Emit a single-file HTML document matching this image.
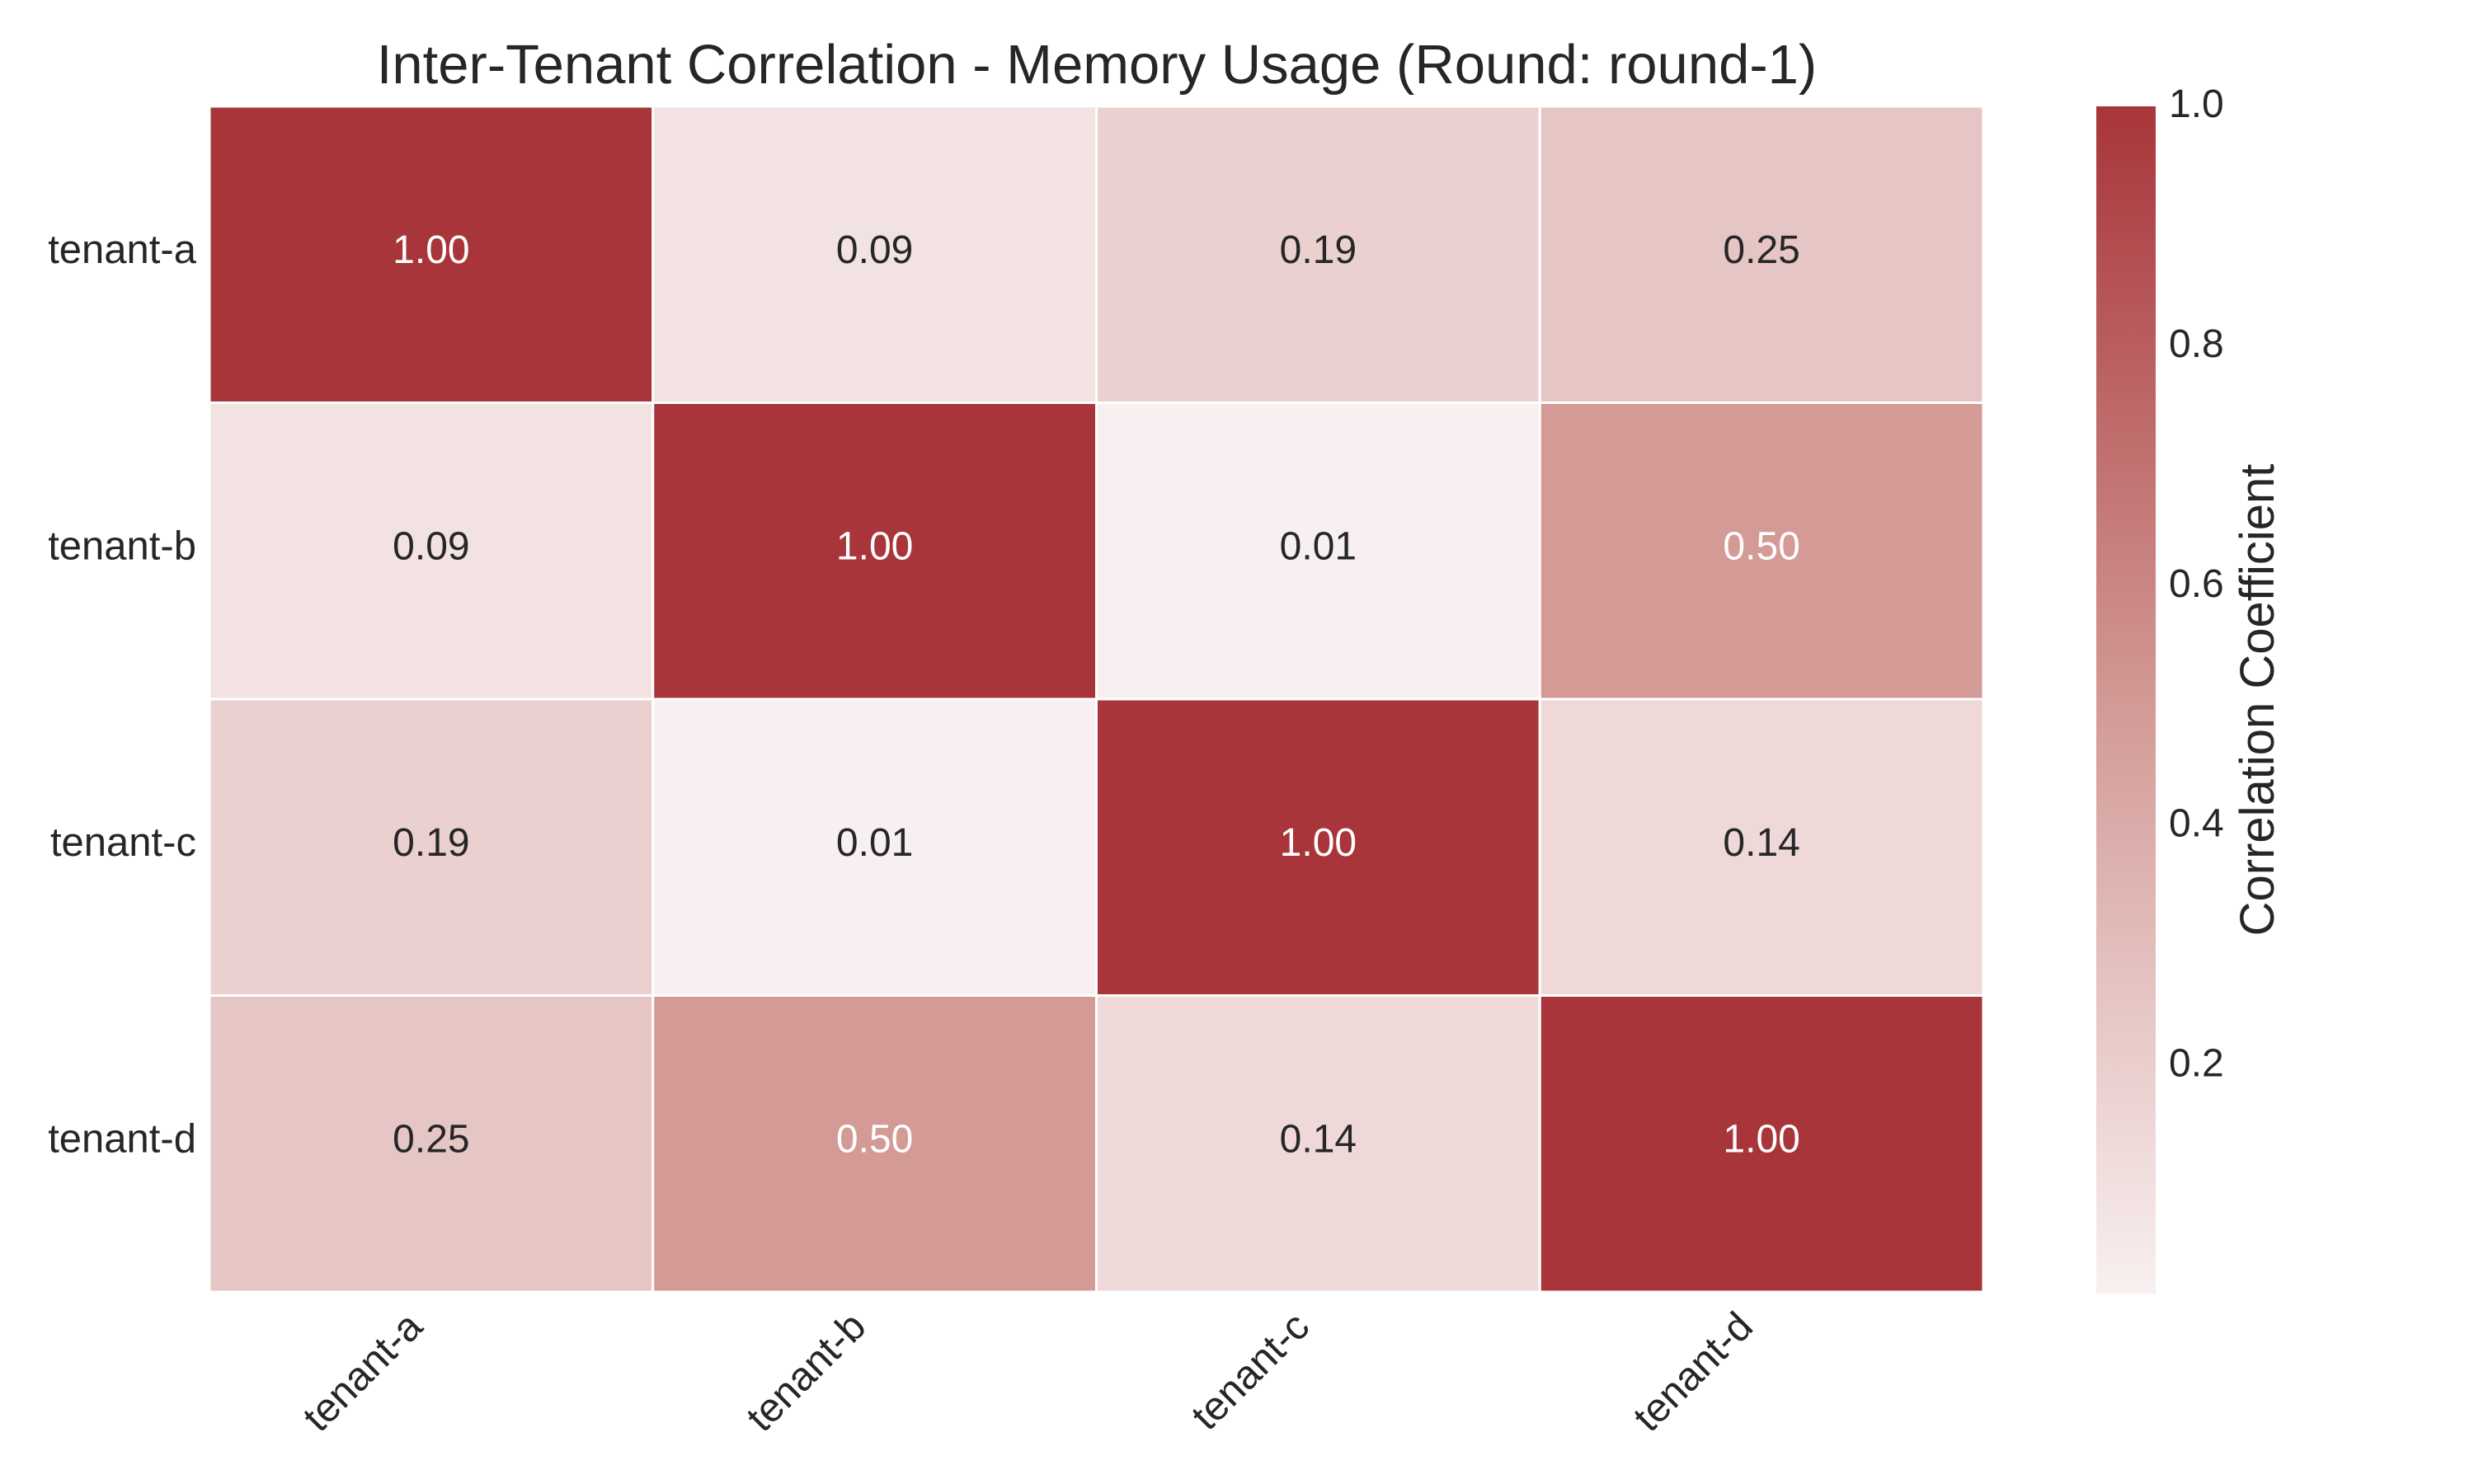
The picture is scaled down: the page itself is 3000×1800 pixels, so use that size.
<!DOCTYPE html>
<html><head><meta charset="utf-8"><style>
html,body{margin:0;padding:0;background:#fff;}
svg{display:block;font-family:"Liberation Sans",Arial,sans-serif;}
</style></head><body>
<svg id="chart" width="3000" height="1800" viewBox="0 0 3000 1800">
<text x="1330" y="101" text-anchor="middle" font-size="67" fill="#262626">Inter-Tenant Correlation - Memory Usage (Round: round-1)</text>
<g id="cells"></g>
<g id="ylabels"></g>
<g id="xlabels"></g>
<defs><linearGradient id="cbgrad" x1="0" y1="1" x2="0" y2="0">
<stop offset="0" stop-color="#f8f0f0"/><stop offset="0.495" stop-color="#d39a96"/><stop offset="1" stop-color="#a8353a"/>
</linearGradient></defs>
<rect x="2542" y="129" width="72" height="1440" fill="url(#cbgrad)"/>
<g id="cbticks"></g>
<text transform="translate(2757,849) rotate(-90)" text-anchor="middle" font-size="58" fill="#262626">Correlation Coefficient</text>
</svg>
<script>
const tenants = ["tenant-a","tenant-b","tenant-c","tenant-d"];
const row0 = [1.00,0.09,0.19,0.25];
const row1 = [0.09,1.00,0.01,0.50];
const row2 = [0.19,0.01,1.00,0.14];
const row3 = [0.25,0.50,0.14,1.00];
const cbTicks = [0.2,0.4,0.6,0.8,1.0];
const vmin = 0.01, vmax = 1.0;
const matrix = [row0,row1,row2,row3];
const NS = "http://www.w3.org/2000/svg";
const X0=254,X1=2405,Y0=129,Y1=1567,CB0=129,CB1=1569;
const cw=(X1-X0)/tenants.length, ch=(Y1-Y0)/tenants.length;
function xPos(i){return X0+i*cw;}
function yPos(i){return Y0+i*ch;}
function cbY(v){return CB1-(v-vmin)/(vmax-vmin)*(CB1-CB0);}
function hex(c){return [parseInt(c.slice(1,3),16),parseInt(c.slice(3,5),16),parseInt(c.slice(5,7),16)];}
const lo=hex("#f8f0f0"),mid=hex("#d39a96"),hi=hex("#a8353a");
function color(v){
  let t=(v-vmin)/(vmax-vmin); t=Math.max(0,Math.min(1,t));
  let a,b,f; if(t<0.495){a=lo;b=mid;f=t/0.495;}else{a=mid;b=hi;f=(t-0.495)/0.505;}
  return "rgb("+a.map((x,k)=>Math.round(x+(b[k]-x)*f)).join(",")+")";
}
function mk(tag,attrs,parent,txt){const e=document.createElementNS(NS,tag);for(const k in attrs)e.setAttribute(k,attrs[k]);if(txt!==undefined)e.textContent=txt;parent.appendChild(e);return e;}
const cells=document.getElementById("cells");
matrix.forEach((row,r)=>row.forEach((v,c)=>{
  const rect=mk("rect",{x:xPos(c),y:yPos(r),width:cw,height:ch,fill:color(v),stroke:"#fff","stroke-width":3},cells);
  
  
  const t=mk("text",{x:xPos(c)+cw/2,y:yPos(r)+ch/2+10,"text-anchor":"middle","font-size":48,fill:v>0.4?"#ffffff":"#262626"},cells,v.toFixed(2));
  
  
}));
const yl=document.getElementById("ylabels");
tenants.forEach((n,i)=>{
  const t=mk("text",{x:238,y:yPos(i)+ch/2+10,"text-anchor":"end","font-size":49,fill:"#262626"},yl,n);
  
  
});
const xl=document.getElementById("xlabels");
tenants.forEach((n,i)=>{
  const cx=xPos(i)+cw/2;
  const t=mk("text",{transform:"translate("+(cx-8)+",1612) rotate(-45)","text-anchor":"end","font-size":49,fill:"#262626"},xl,n);
  
  
});
const cb=document.getElementById("cbticks");
cbTicks.forEach(v=>{
  const y=cbY(v);
  const t=mk("text",{x:2630,y:y+13,"font-size":48,fill:"#262626"},cb,v.toFixed(1));
  
  
});
</script>
</body></html>
